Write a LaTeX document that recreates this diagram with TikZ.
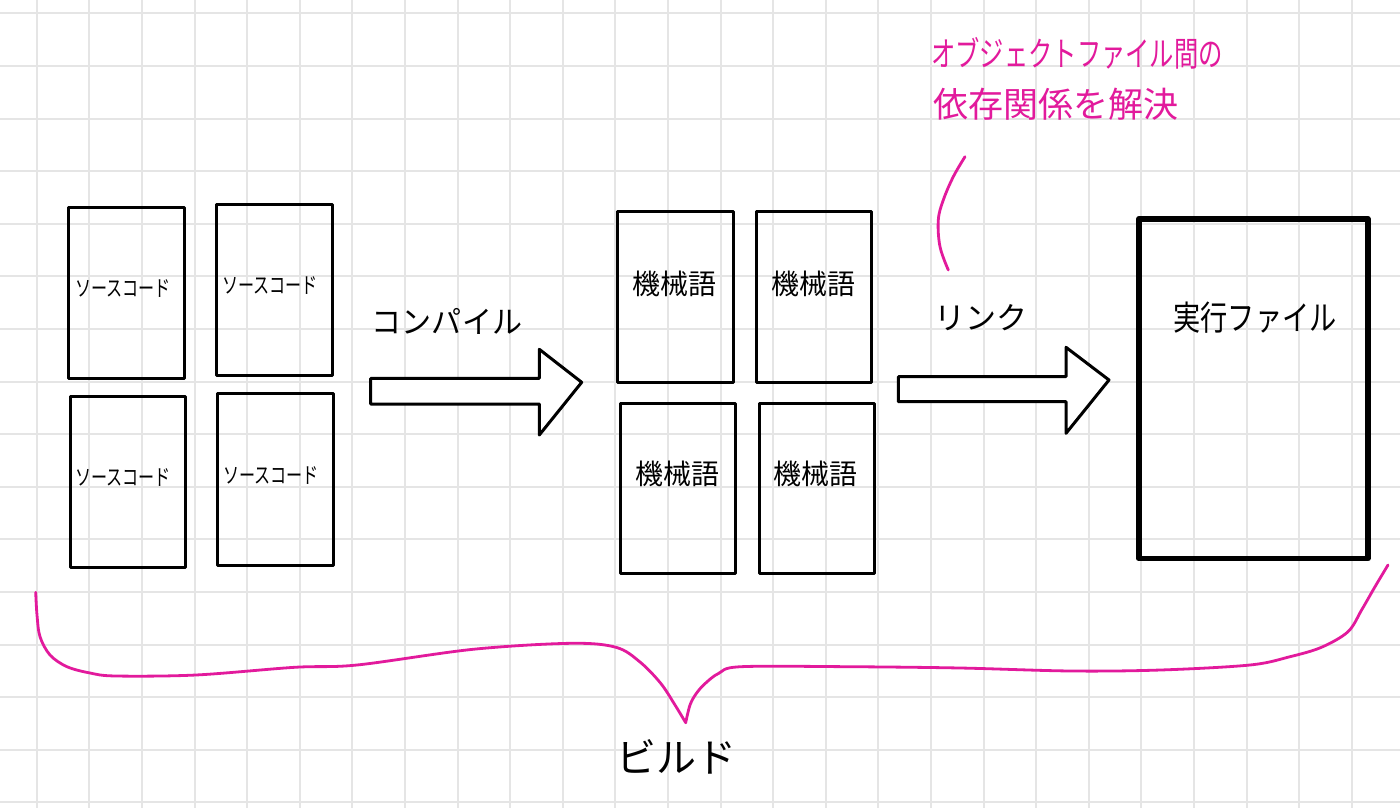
\documentclass[tikz,border=0pt]{standalone}
\usepackage{fontspec}
\usepackage{graphicx}
\newfontfamily\jp{Noto Sans CJK JP}
\usetikzlibrary{fit}
\definecolor{penpink}{RGB}{226,26,156}
\definecolor{gridc}{RGB}{229,229,229}
\newcommand{\hsq}[2]{\scalebox{#1}[1]{#2}}
\begin{document}
\begin{tikzpicture}[x=1pt,y=-1pt,
  gridline/.style={draw=gridc, line width=2pt},
  doc/.style={draw=black, line width=3pt, inner sep=0pt, line join=round},
  exebox/.style={draw=black, line width=5.5pt, inner sep=0pt, line join=round},
  lbl/.style={inner sep=0pt, text=black},
  srclbl/.style={lbl, font=\jp\fontsize{22}{26}\selectfont},
  mclbl/.style={lbl, font=\jp\fontsize{28}{32}\selectfont},
  biglbl/.style={lbl, font=\jp\fontsize{31}{35}\selectfont},
  pinklbl/.style={inner sep=0pt, text=penpink},
  blockarrow/.style={draw=black, line width=3pt, line join=round, fill=white},
  pinkline/.style={draw=penpink, line width=2.8pt, line cap=round, line join=round},
]
% page
\fill[white] (0,0) rectangle (1400,808);
\useasboundingbox (0,0) rectangle (1400,808);
% grid
\foreach \i in {0,...,26} \draw[gridline] ({36.7+52.6*\i},0) -- ({36.7+52.6*\i},808);
\foreach \j in {0,...,15} \draw[gridline] (0,{13.3+52.6*\j}) -- (1400,{13.3+52.6*\j});

% source code documents
\node[doc, fit={(68.8,207.5) (184.5,378.8)}] (s1) {};
\node[doc, fit={(216.8,204.8) (332.2,375.2)}] (s2) {};
\node[doc, fit={(70.2,396.2) (185.5,567.2)}] (s3) {};
\node[doc, fit={(217.8,393.8) (333.5,565.5)}] (s4) {};
\node[srclbl] (t1) at (123,289) {\hsq{0.73}{ソースコード}};
\node[srclbl] (t2) at (270,286) {\hsq{0.73}{ソースコード}};
\node[srclbl] (t3) at (123,477) {\hsq{0.73}{ソースコード}};
\node[srclbl] (t4) at (271,475) {\hsq{0.73}{ソースコード}};

% machine code documents
\node[doc, fit={(617.5,211.5) (733.2,382.8)}] (m1) {};
\node[doc, fit={(756.2,211.5) (871.8,382.8)}] (m2) {};
\node[doc, fit={(620.5,403.2) (735.8,573.5)}] (m3) {};
\node[doc, fit={(759.2,403.8) (874.5,573.5)}] (m4) {};
\node[mclbl] (u1) at (674,284) {機械語};
\node[mclbl] (u2) at (813,284) {機械語};
\node[mclbl] (u3) at (677,474) {機械語};
\node[mclbl] (u4) at (815,474) {機械語};

% executable
\node[exebox, fit={(1138.8,218.8) (1368,558.5)}] (exe) {};
\node[lbl, font=\jp\fontsize{34}{38}\selectfont] (exet) at (1255,318) {\hsq{0.8}{実行ファイル}};

% compile arrow
\draw[blockarrow] (370.7,378.3) -- (539.3,378.3) -- (539.3,349.3) -- (581.7,382.3)
  -- (539.3,435) -- (539.3,404) -- (370.7,404) -- cycle;
\node[biglbl] (comp) at (447,321) {\hsq{0.97}{コンパイル}};

% link arrow
\draw[blockarrow] (898.3,376.7) -- (1066,376.7) -- (1066,347.3) -- (1109,380)
  -- (1066,433.3) -- (1066,401.7) -- (898.3,401.7) -- cycle;
\node[biglbl] (link) at (981,318) {リンク};

% pink annotation
\node[pinklbl, font=\jp\fontsize{34}{38}\selectfont] (note1) at (1077,53) {\hsq{0.715}{オブジェクトファイル間の}};
\node[pinklbl, font=\jp\fontsize{35}{40}\selectfont] (note2) at (1056,104) {依存関係を解決};
\draw[pinkline] plot[smooth, tension=0.6] coordinates {(965,156.7) (953.3,176.7) (943.3,200) (938.3,220) (940,246.7) (948.3,270)};

% brace
\coordinate (bl) at (35.7,592.3);
\coordinate (btip) at (685.7,722.7);
\coordinate (br) at (1388,565);
\draw[pinkline] plot[smooth, tension=0.55] coordinates {(bl) (37,615) (40,636.7) (50,655) (67,666.7) (90,673) (116,676) (196,675) (294.6,667.3) (357,665) (473,649.3) (571,643.3) (616,647.3) (640,662) (660.7,683.3) (675,705) (btip)};
\draw[pinkline] plot[smooth, tension=0.55] coordinates {(btip) (690,705) (696.4,693.3) (705.4,683.3) (718.8,673.3) (741,666.7) (848,666.7) (960,668) (1071,671) (1160.7,670) (1250,665) (1290,656.7) (1321.4,647.3) (1348,631.7) (1361.6,610) (1375,586.7) (br)};
\node[lbl, font=\jp\fontsize{40}{44}\selectfont] (build) at (676,757) {ビルド};
\end{tikzpicture}
\end{document}
